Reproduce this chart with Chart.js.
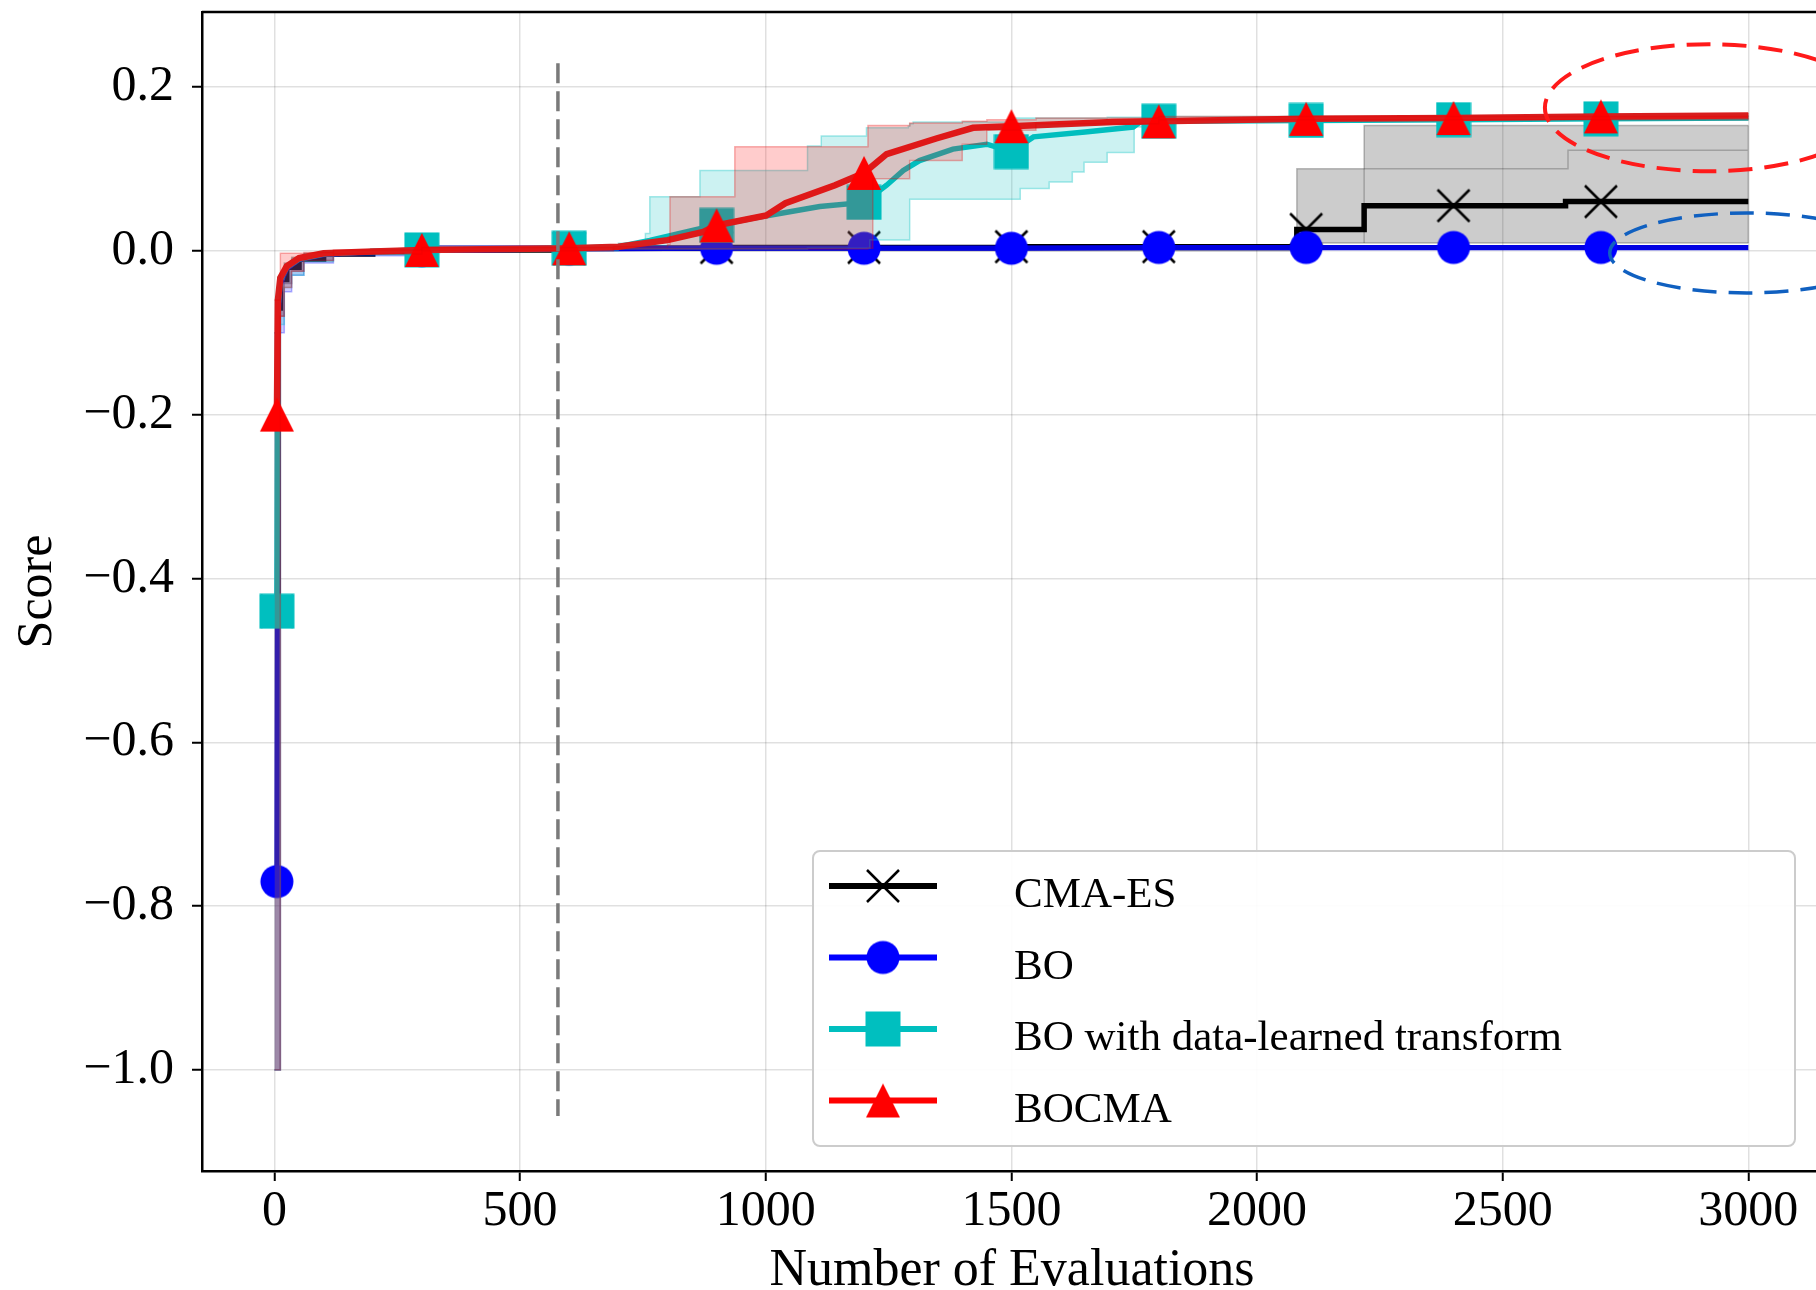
<!DOCTYPE html>
<html>
<head>
<meta charset="utf-8">
<script src="https://cdn.jsdelivr.net/npm/chart.js@4.4.0/dist/chart.umd.min.js"></script>
<style>
  html, body { margin: 0; padding: 0; background: #fff; overflow: hidden; }
  #scoreChart { display: block; }
</style>
</head>
<body>
<canvas id="scoreChart" width="1830" height="1290"></canvas>
<script>
// values (x = number of evaluations, y = score)
const xTickVals = [0, 500, 1000, 1500, 2000, 2500, 3000];
const yTickVals = [-1.0, -0.8, -0.6, -0.4, -0.2, 0.0, 0.2];
const markX = [5, 300, 600, 900, 1200, 1500, 1800, 2100, 2400, 2700];

const cmaX = [5, 7, 12, 25, 50, 100, 200, 300, 600, 900, 1200, 1500, 1800, 2081, 2100, 2218, 2400, 2628, 2700, 3000];
const cmaY = [-0.44, -0.07, -0.035, -0.02, -0.01, -0.004, -0.001, 0.001, 0.003, 0.004, 0.004, 0.005, 0.005, 0.026, 0.026, 0.055, 0.055, 0.06, 0.06, 0.06];

const boX = [5, 7, 12, 25, 50, 100, 200, 300, 600, 900, 1200, 1500, 1800, 2100, 2400, 2700, 3000];
const boY = [-0.77, -0.08, -0.04, -0.022, -0.011, -0.005, -0.001, 0.0, 0.002, 0.003, 0.003, 0.003, 0.004, 0.004, 0.004, 0.004, 0.004];

const tfX = [5, 7, 12, 25, 50, 100, 200, 300, 600, 700, 764, 866, 900, 976, 1110, 1200, 1246, 1280, 1313, 1381, 1450, 1500, 1545, 1650, 1748, 1762, 1800, 2100, 2400, 2700, 3000];
const tfY = [-0.44, -0.07, -0.035, -0.02, -0.01, -0.004, -0.001, 0.001, 0.003, 0.005, 0.0125, 0.027, 0.031, 0.040, 0.054, 0.059, 0.080, 0.098, 0.110, 0.124, 0.130, 0.121, 0.139, 0.145, 0.151, 0.157, 0.158, 0.159, 0.160, 0.161, 0.162];

const bcX = [5, 7, 12, 25, 50, 100, 200, 300, 600, 700, 800, 873, 900, 1001, 1040, 1141, 1200, 1246, 1347, 1422, 1500, 1707, 1800, 2100, 2400, 2700, 3000];
const bcY = [-0.2, -0.06, -0.033, -0.019, -0.009, -0.003, -0.001, 0.001, 0.003, 0.005, 0.013, 0.023, 0.031, 0.043, 0.058, 0.080, 0.095, 0.118, 0.137, 0.150, 0.152, 0.157, 0.158, 0.161, 0.162, 0.164, 0.165];

// shaded ranges (value holds until the next x)
const cmaBandX = [0, 12, 20, 35, 60, 120, 300, 2081, 2218, 3000];
const cmaBandLo = [-1.0, -0.08, -0.04, -0.025, -0.012, -0.004, 0.0, 0.0094, 0.0094, 0.0094];
const cmaBandHi = [-0.1, -0.03, -0.015, -0.008, -0.003, 0.0, 0.006, 0.100, 0.153, 0.153];
const cmaInnerX = [2218, 2218, 2633, 2633, 3000, 3000, 3000];
const cmaInnerY = [0.0094, 0.100, 0.100, 0.1226, 0.1226, 0.153, 0.0094];

const boBandX = [0, 12, 20, 35, 60, 120, 300, 3000];
const boBandLo = [-1.0, -0.10, -0.05, -0.03, -0.015, -0.006, 0.001, 0.001];
const boBandHi = [-0.1, -0.04, -0.02, -0.012, -0.006, 0.0, 0.006, 0.006];

const tfBandX = [0, 12, 20, 35, 60, 120, 300, 700, 755, 764, 866, 1085, 1113, 1205, 1212, 1290, 1293, 1300, 1500, 1518, 1577, 1624, 1648, 1695, 1750, 1800, 3000];
const tfBandHi = [-0.1, -0.035, -0.018, -0.01, -0.004, 0.0, 0.004, 0.009, 0.021, 0.066, 0.098, 0.128, 0.140, 0.150, 0.150, 0.152, 0.155, 0.157, 0.162, 0.162, 0.162, 0.162, 0.162, 0.163, 0.163, 0.164, 0.165];
const tfBandLo = [-1.0, -0.09, -0.045, -0.03, -0.013, -0.005, 0.0, 0.002, 0.002, 0.002, 0.002, 0.003, 0.003, 0.003, 0.013, 0.013, 0.063, 0.063, 0.063, 0.076, 0.084, 0.096, 0.108, 0.120, 0.151, 0.160, 0.162];

const bcBandX = [0, 12, 20, 35, 60, 120, 300, 690, 800, 805, 937, 1208, 1216, 1218, 1293, 1400, 1450, 1550, 1800, 3000];
const bcBandHi = [-0.06, -0.003, -0.003, -0.003, -0.002, 0.001, 0.004, 0.005, 0.008, 0.066, 0.127, 0.153, 0.153, 0.153, 0.156, 0.158, 0.160, 0.162, 0.164, 0.168];
const bcBandLo = [-1.0, -0.08, -0.045, -0.025, -0.012, -0.004, 0.0, 0.002, 0.002, 0.002, 0.002, 0.003, 0.003, 0.088, 0.110, 0.130, 0.147, 0.155, 0.160, 0.163];

// dashed vertical marker and the two highlight ellipses
const splitX = [577, 577];
const splitY = [0.229, -1.056];
const redRing = [2920, 0.1746, 334, 0.0775];   // cx, cy, rx, ry (data units)
const blueRing = [2997, -0.0027, 279, 0.0488];

const serif = '"Liberation Serif", "Times New Roman", serif';

function pts(xs, ys) { return xs.map((x, i) => ({ x: x, y: ys[i] })); }

function makeMarker(kind, color) {
    const c = document.createElement('canvas');
    c.width = 36; c.height = 36;
    const g = c.getContext('2d');
    const m = 18;
    g.fillStyle = color; g.strokeStyle = color;
    if (kind === 'circle') { g.beginPath(); g.arc(m, m, 16.5, 0, Math.PI * 2); g.fill(); }
    else if (kind === 'square') { g.fillRect(m - 17.5, m - 17.5, 35, 35); }
    else if (kind === 'triangle') {
        g.beginPath(); g.moveTo(m, m - 17); g.lineTo(m + 17, m + 17); g.lineTo(m - 17, m + 17); g.closePath(); g.fill();
    } else {
        g.lineWidth = 2.5; g.beginPath();
        g.moveTo(m - 16, m - 16); g.lineTo(m + 16, m + 16);
        g.moveTo(m + 16, m - 16); g.lineTo(m - 16, m + 16); g.stroke();
    }
    return c;
}

const mkX = makeMarker('x', '#000000');
const mkO = makeMarker('circle', '#0000ff');
const mkS = makeMarker('square', '#00bfbf');
const mkT = makeMarker('triangle', '#ff0000');

// chart.js 'before' = hold the previous value until the next x (matplotlib steps-post)
function meanSet(label, xs, ys, color, width, img, order, handleColor, stepped) {
    return {
        label: label, data: pts(xs, ys), borderColor: color, borderWidth: width,
        stepped: stepped, fill: false, order: order,
        pointStyle: img,
        pointRadius: ctx => (ctx.raw && markX.includes(ctx.raw.x)) ? 17 : 0,
        handle: { color: handleColor, img: img }
    };
}

function bandSet(xs, ys, edge, fillColor, order, fill) {
    return {
        data: pts(xs, ys), borderColor: edge, borderWidth: 1.5, backgroundColor: fillColor,
        fill: fill, stepped: 'before', pointRadius: 0, order: order
    };
}

// legend drawn like the matplotlib box
const legendBox = {
    id: 'legendBox',
    afterDatasetsDraw(chart) {
        const { ctx, chartArea: a } = chart;
        const x0 = a.left + 611, y0 = a.top + 839, w = 982, h = 295;
        ctx.save();
        ctx.beginPath();
        ctx.roundRect(x0, y0, w, h, 7);
        ctx.fillStyle = 'rgba(255,255,255,0.92)';
        ctx.fill();
        ctx.lineWidth = 2;
        ctx.strokeStyle = '#cccccc';
        ctx.stroke();
        const items = chart.data.datasets.filter(d => d.handle);
        items.forEach((d, i) => {
            const base = y0 + 56 + i * 71.5;
            const hy = base - 21;
            ctx.strokeStyle = d.handle.color;
            ctx.lineWidth = 6;
            ctx.beginPath(); ctx.moveTo(x0 + 16, hy); ctx.lineTo(x0 + 124, hy); ctx.stroke();
            ctx.drawImage(d.handle.img, x0 + 70 - 18, hy - 18);
            ctx.fillStyle = '#000';
            ctx.font = '43px ' + serif;
            ctx.textBaseline = 'alphabetic';
            ctx.textAlign = 'left';
            ctx.fillText(d.label, x0 + 201, base);
        });
        ctx.restore();
    }
};

// top frame line and the dashed highlight ellipses
const decorations = {
    id: 'decorations',
    afterDraw(chart) {
        const { ctx, chartArea: a, scales: { x, y } } = chart;
        ctx.save();
        ctx.strokeStyle = '#000';
        ctx.lineWidth = 2.5;
        ctx.beginPath(); ctx.moveTo(a.left, a.top); ctx.lineTo(a.right, a.top); ctx.stroke();
        const ring = (r, color, lw) => {
            const cx = x.getPixelForValue(r[0]), cy = y.getPixelForValue(r[1]);
            const rx = x.getPixelForValue(r[0] + r[2]) - cx;
            const ry = cy - y.getPixelForValue(r[1] + r[3]);
            ctx.strokeStyle = color; ctx.lineWidth = lw; ctx.setLineDash([24, 12]);
            ctx.beginPath(); ctx.ellipse(cx, cy, rx, ry, 0, 0, Math.PI * 2); ctx.stroke();
        };
        ring(redRing, '#ff1a1a', 4);
        ring(blueRing, '#1060c0', 3.5);
        ctx.restore();
    }
};

document.addEventListener('DOMContentLoaded', () => {
    const ctx = document.getElementById('scoreChart').getContext('2d');
    new Chart(ctx, {
        type: 'line',
        data: {
            datasets: [
                meanSet('CMA-ES', cmaX, cmaY, '#000000', 5.5, mkX, 90, '#000000', 'before'),
                bandSet(cmaBandX, cmaBandLo, 'rgba(0,0,0,0.25)', 'rgba(0,0,0,0.2)', 85, false),
                bandSet(cmaBandX, cmaBandHi, 'rgba(0,0,0,0.25)', 'rgba(0,0,0,0.2)', 84, '-1'),
                { data: pts(cmaInnerX, cmaInnerY), borderColor: 'rgba(0,0,0,0.22)', borderWidth: 1.5, pointRadius: 0, fill: false, order: 83 },
                meanSet('BO', boX, boY, '#0000d8', 5, mkO, 70, '#0000ff', false),
                bandSet(boBandX, boBandLo, 'rgba(0,0,255,0.3)', 'rgba(0,0,255,0.2)', 65, false),
                bandSet(boBandX, boBandHi, 'rgba(0,0,255,0.3)', 'rgba(0,0,255,0.2)', 64, '-1'),
                meanSet('BO with data-learned transform', tfX, tfY, '#00bfbf', 5.5, mkS, 50, '#00bfbf', false),
                bandSet(tfBandX, tfBandLo, 'rgba(0,191,191,0.35)', 'rgba(0,191,191,0.2)', 45, false),
                bandSet(tfBandX, tfBandHi, 'rgba(0,191,191,0.35)', 'rgba(0,191,191,0.2)', 44, '-1'),
                meanSet('BOCMA', bcX, bcY, '#d81e1e', 6.5, mkT, 30, '#ff0000', false),
                bandSet(bcBandX, bcBandLo, 'rgba(230,0,0,0.3)', 'rgba(255,0,0,0.2)', 25, false),
                bandSet(bcBandX, bcBandHi, 'rgba(230,0,0,0.3)', 'rgba(255,0,0,0.2)', 24, '-1'),
                { data: pts(splitX, splitY), borderColor: '#7a7a7a', borderWidth: 3.5, borderDash: [20, 8], pointRadius: 0, fill: false, order: 10 }
            ]
        },
        options: {
            responsive: false,
            animation: false,
            events: [],
            layout: { autoPadding: false, padding: { top: 12, right: 8, left: 0, bottom: 0 } },
            plugins: {
                legend: { display: false },
                tooltip: { enabled: false }
            },
            scales: {
                x: {
                    type: 'linear',
                    min: -147.5,
                    max: 3150,
                    afterBuildTicks: s => { s.ticks = xTickVals.map(v => ({ value: v })); },
                    ticks: {
                        autoSkip: false, maxRotation: 0,
                        padding: 1, color: '#000',
                        font: { family: serif, size: 50, lineHeight: 1.2 },
                        callback: v => String(v)
                    },
                    grid: { color: 'rgba(0,0,0,0.12)', lineWidth: 1.5, tickColor: '#000', tickLength: 10, tickWidth: 2 },
                    border: { color: '#000', width: 2.5 },
                    title: {
                        display: true, text: 'Number of Evaluations', color: '#000',
                        font: { family: serif, size: 52, lineHeight: 0.7 },
                        padding: { top: 0, bottom: 0 }
                    },
                    afterFit: s => { s.height = 119; s.paddingLeft = 0; s.paddingRight = 0; }
                },
                y: {
                    type: 'linear',
                    min: -1.1232,
                    max: 0.2914,
                    afterBuildTicks: s => { s.ticks = yTickVals.map(v => ({ value: v })); },
                    ticks: {
                        autoSkip: false, padding: 18, color: '#000',
                        font: { family: serif, size: 50 },
                        callback: v => {
                            const s = Math.abs(v).toFixed(1);
                            return v < -1e-9 ? '\u2212' + s : s;
                        }
                    },
                    grid: { color: 'rgba(0,0,0,0.12)', lineWidth: 1.5, tickColor: '#000', tickLength: 10, tickWidth: 2 },
                    border: { color: '#000', width: 2.5 },
                    title: {
                        display: true, text: 'Score', color: '#000',
                        font: { family: serif, size: 50, lineHeight: 0.8 },
                        padding: { top: 18, bottom: 0 }
                    },
                    afterFit: s => { s.width = 202; s.paddingTop = 0; s.paddingBottom = 0; }
                }
            }
        },
        plugins: [legendBox, decorations]
    });
});
</script>
</body>
</html>
